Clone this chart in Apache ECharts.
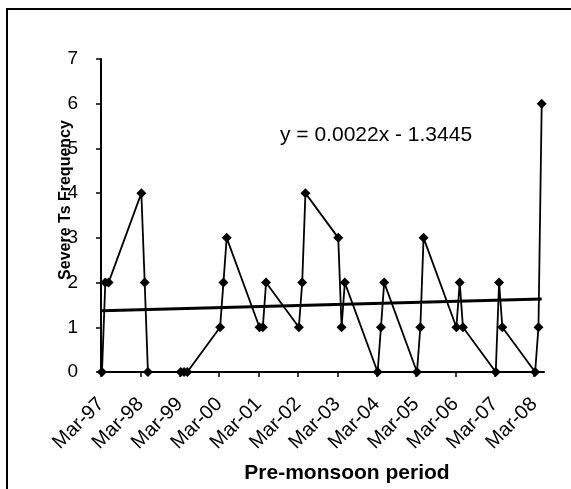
<!DOCTYPE html>
<html>
<head>
<meta charset="utf-8">
<script src="https://cdn.jsdelivr.net/npm/echarts@6/dist/echarts.min.js"></script>
<style>
html,body{margin:0;padding:0;background:#fff;}
#c{width:571px;height:489px;}
</style>
</head>
<body>
<div id="c"></div>
<script>
// Pre-monsoon months (observation dates within each year)
var years = [1997,1998,1999,2000,2001,2002,2003,2004,2005,2006,2007,2008];
var monthDates = ['03-10','04-10','05-10'];
var marValues = [0,4,0,1,1,1,3,0,0,1,0,0];
var aprValues = [2,2,0,2,1,2,1,1,1,2,2,1];
var mayValues = [2,0,0,3,2,4,2,2,3,1,1,6];
// Linear trend end values
var trendValues = [1.37, 1.63];
var equationText = 'y = 0.0022x - 1.3445';
var yTicks = [0,1,2,3,4,5,6,7];

function decYear(y, md){
  var t = Date.UTC(y, parseInt(md.slice(0,2),10)-1, parseInt(md.slice(3),10));
  var start = Date.UTC(y, 2, 1);
  return y + (t - start) / (365 * 86400000);
}
var monthly = [marValues, aprValues, mayValues];
var seriesData = [];
years.forEach(function(y, i){
  monthDates.forEach(function(md, m){
    seriesData.push([decYear(y, md), monthly[m][i]]);
  });
});
var trendData = [[seriesData[0][0], trendValues[0]], [seriesData[seriesData.length-1][0], trendValues[1]]];

var FONT = '"Liberation Sans", Arial, sans-serif';
var chart = echarts.init(document.getElementById('c'), null, {renderer:'canvas'});
chart.setOption({
  animation:false,
  backgroundColor:'#fff',
  grid:{left:101, top:59, right:27, bottom:117, containLabel:false},
  xAxis:{
    type:'value', min:years[0], max:2008.25, interval:1,
    axisLine:{lineStyle:{color:'#000', width:2}},
    axisTick:{show:true, length:5, inside:false, lineStyle:{color:'#000', width:1.5}},
    splitLine:{show:false},
    axisLabel:{rotate:45, margin:29, color:'#000', fontFamily:FONT, fontSize:20,
      formatter:function(v){ var n = Math.round(v) % 100; return 'Mar-' + (n<10?'0':'') + n; }}
  },
  yAxis:{
    type:'value', min:yTicks[0], max:yTicks[yTicks.length-1], interval:1,
    axisLine:{show:true, lineStyle:{color:'#000', width:2}},
    axisTick:{show:true, length:5, lineStyle:{color:'#000', width:1.5}},
    splitLine:{show:false},
    axisLabel:{margin:23, color:'#000', fontFamily:FONT, fontSize:19}
  },
  series:[
    {type:'line', data:seriesData, symbol:'diamond', symbolSize:10, showSymbol:true,
     lineStyle:{color:'#000', width:1.8}, itemStyle:{color:'#000'}, z:3},
    {type:'line', data:trendData, symbol:'none', lineStyle:{color:'#000', width:3}, z:2}
  ],
  graphic:[
    {type:'rect', shape:{x:7, y:9, width:620, height:600}, style:{fill:null, stroke:'#000', lineWidth:2}, z:-1},
    {type:'text', x:280, y:125, style:{text:equationText, font:'21px ' + FONT, fill:'#000'}},
    {type:'text', x:347, y:473, style:{text:'Pre-monsoon period', font:'bold 21px ' + FONT, fill:'#000', align:'center', verticalAlign:'middle'}},
    {type:'text', x:66, y:200, rotation:Math.PI/2, style:{text:'Severe Ts Frequency', font:'bold 16px ' + FONT, fill:'#000', align:'center', verticalAlign:'middle'}}
  ]
});
</script>
</body>
</html>
